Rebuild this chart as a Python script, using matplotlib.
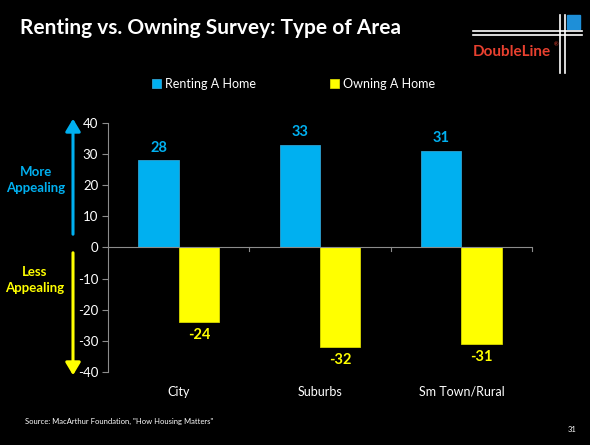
import numpy as np
import matplotlib
matplotlib.use("Agg")
import matplotlib.pyplot as plt
from matplotlib.lines import Line2D
from matplotlib.patches import Rectangle, FancyArrowPatch

# data
areas = ["City", "Suburbs", "Sm Town/Rural"]
renting = [28, 33, 31]
owning = [-24, -32, -31]
series_names = ["Renting A Home", "Owning A Home"]
yticks = [-40, -30, -20, -10, 0, 10, 20, 30, 40]

BLUE = "#00B0F0"
YELLOW = "#FFFF00"
GREY = "#8C8C8C"

plt.rcParams["font.family"] = ["Lato", "DejaVu Sans"]

fig = plt.figure(figsize=(5.9, 4.45), dpi=100, facecolor="black")
ax = fig.add_axes([0.183, 0.164, 0.719, 0.560], facecolor="black")

x = np.arange(len(areas))
w = 0.285
ax.bar(x - w / 2, renting, w, color=BLUE, edgecolor="#2FA0D0", linewidth=0.6, label=series_names[0])
ax.bar(x + w / 2, owning, w, color=YELLOW, edgecolor="#D8D800", linewidth=0.6, label=series_names[1])

# value labels
for xi, v in zip(x, renting):
    ax.annotate(str(v), (xi - w / 2, v), xytext=(0, 4), textcoords="offset points",
                ha="center", va="bottom", color=BLUE, fontsize=10.5, fontweight="bold")
for xi, v in zip(x, owning):
    ax.annotate(str(v), (xi + w / 2, v), xytext=(0, -4), textcoords="offset points",
                ha="center", va="top", color=YELLOW, fontsize=10.5, fontweight="bold")

ax.set_xlim(-0.5, 2.5)
ax.set_ylim(-40, 40)
ax.set_yticks(yticks)
ax.set_yticklabels([str(t) for t in yticks], color="white", fontsize=9.5)
ax.tick_params(axis="y", colors=GREY, labelcolor="white", length=4, width=0.8, pad=3)
ax.set_xticks([])
for s in ["top", "right", "bottom"]:
    ax.spines[s].set_visible(False)
ax.spines["left"].set_color(GREY)
ax.spines["left"].set_linewidth(0.8)

# zero axis with category boundary ticks
ax.axhline(0, color=GREY, lw=0.8)
for b in [0.5, 1.5, 2.5]:
    ax.plot([b, b], [0, -1.2], color=GREY, lw=0.8, clip_on=False)

# category labels below the plot
for xi, name in zip(x, areas):
    ax.text(xi, -0.055, name, transform=ax.get_xaxis_transform(), ha="center", va="top",
            color="white", fontsize=9)

# legend
leg = fig.legend(loc="center", bbox_to_anchor=(0.497, 0.811), ncol=2, frameon=False,
                 fontsize=9, handlelength=0.75, handleheight=0.75, handletextpad=0.3,
                 columnspacing=5.9, labelcolor="white")

# title
fig.text(0.034, 0.937, "Renting vs. Owning Survey: Type of Area", color="white",
         fontsize=15, fontweight="bold", ha="left", va="center")

# left-side arrows and captions
fig.patches.append(FancyArrowPatch((73 / 590, 1 - 237 / 445), (73 / 590, 1 - 116 / 445),
                                   transform=fig.transFigure, arrowstyle="-|>,head_length=5,head_width=3",
                                   color=BLUE, lw=2.2, mutation_scale=1.5))
fig.patches.append(FancyArrowPatch((73 / 590, 1 - 250 / 445), (73 / 590, 1 - 378 / 445),
                                   transform=fig.transFigure, arrowstyle="-|>,head_length=5,head_width=3",
                                   color=YELLOW, lw=2.2, mutation_scale=1.5))
fig.text(36 / 590, 1 - 180 / 445, "More\nAppealing", color=BLUE, fontsize=9.5, fontweight="bold",
         ha="center", va="center", linespacing=1.3)
fig.text(35 / 590, 1 - 280 / 445, "Less\nAppealing", color=YELLOW, fontsize=9.5, fontweight="bold",
         ha="center", va="center", linespacing=1.3)

# logo
for yy in [31, 35]:
    fig.add_artist(Line2D([473 / 590, 582 / 590], [1 - yy / 445] * 2, color="white", lw=1.2))
for xx in [560, 565]:
    fig.add_artist(Line2D([xx / 590] * 2, [1 - 15 / 445, 1 - 73 / 445], color="white", lw=1.2))
fig.add_artist(Rectangle((567 / 590, 1 - 29 / 445), 13 / 590, 14 / 445, color="#1E8FD8"))
fig.text(512 / 590, 1 - 52 / 445, "DoubleLine", color="#E8402F", fontsize=11, fontweight="bold",
         ha="center", va="center")
fig.text(556 / 590, 1 - 45 / 445, "®", color="#E8402F", fontsize=4, ha="center", va="center")

# footer
fig.text(25 / 590, 1 - 421 / 445, "Source: MacArthur Foundation, \"How Housing Matters\"",
         color="white", fontsize=5.5, ha="left", va="center")
fig.text(572 / 590, 1 - 429 / 445, "31", color="white", fontsize=5.5, ha="center", va="center")

fig.savefig("out.png", dpi=100, facecolor="black")
